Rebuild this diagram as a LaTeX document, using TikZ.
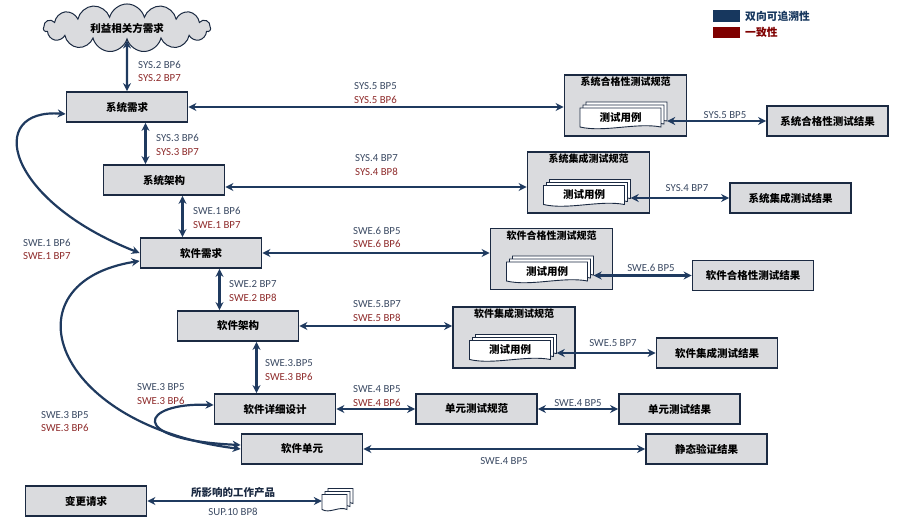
\documentclass[tikz,border=0pt]{standalone}
\usepackage{fontspec}
\setmainfont{Carlito}
\newfontfamily\cjk{Noto Sans CJK SC}
\usetikzlibrary{arrows.meta,shapes.symbols}
\definecolor{navy}{HTML}{1F3A5F}
\definecolor{edge}{HTML}{1B2A42}
\definecolor{boxgray}{HTML}{DADBDE}
\definecolor{bpblue}{HTML}{3B4A63}
\definecolor{bpred}{HTML}{8E2B2B}
\definecolor{legblue}{HTML}{17375E}
\definecolor{legred}{HTML}{7F0000}
\newcommand\pages[3]{%
  \foreach \d in {6,3,0}
    \draw[page] ([shift={(\d-#2/2,-\d-#3/2)}]#1) -- ++(#2,0) -- ++(0,#3)
      .. controls +(-#2*0.3,-#3*0.25) and +(#2*0.3,#3*0.3) .. ++(-#2,0) -- cycle;
}

\begin{document}
\begin{tikzpicture}[x=1pt,y=-1pt,
  box/.style={draw=edge,line width=1.8pt,fill=boxgray,minimum width=121,minimum height=30,inner sep=0,font=\cjk\bfseries\fontsize{10.5}{12}\selectfont},
  spec/.style={box,minimum width=122,minimum height=61},
  title/.style={font=\cjk\bfseries\fontsize{10}{12}\selectfont,inner sep=0},
  doc/.style={minimum width=81,minimum height=19,inner sep=0,font=\cjk\bfseries\fontsize{10.5}{12}\selectfont},
  page/.style={draw=edge,line width=0.9pt,fill=white},
  link/.style={draw=navy,line width=2.2pt,>={Stealth[length=8pt,width=8pt]},<->},
  tag/.style={align=left,anchor=west,inner sep=0,font=\fontsize{10.8}{13.5}\selectfont},
  one/.style={inner sep=0,text=bpblue,font=\fontsize{10.8}{13}\selectfont},
  key/.style={anchor=west,inner sep=0,font=\cjk\bfseries\fontsize{10.8}{13}\selectfont}]
\useasboundingbox (0,0) rectangle (904,522);

\node[cloud,cloud puffs=15,aspect=3.7,draw=edge,line width=1pt,fill=boxgray,minimum width=167,minimum height=45,font=\cjk\bfseries\fontsize{10.5}{12}\selectfont] (a) at (127,28) {利益相关方需求};
\node[box] (sr) at (127,107) {系统需求};
\node[box] (sa) at (164,180) {系统架构};
\node[box] (wr) at (201,253) {软件需求};
\node[box] (wa) at (238,326) {软件架构};
\node[box] (wd) at (275,409) {软件详细设计};
\node[box] (wu) at (302,449) {软件单元};
\node[box] (cr) at (86,501) {变更请求};

\node[spec] (qs) at (625.5,105.5) {};
\node[title] (qst) at ([yshift=-8pt]qs.north) {系统合格性测试规范};
\coordinate (qc) at (620.5,117.5);
\pages{qc}{81}{19}
\node[doc] (qd) at (qc) {测试用例};
\node[box] (qr) at (827.5,121) {系统合格性测试结果};

\node[spec] (is) at (588.5,182.5) {};
\node[title] (ist) at ([yshift=-8pt]is.north) {系统集成测试规范};
\coordinate (ic) at (584,195);
\pages{ic}{81}{19}
\node[doc] (id) at (ic) {测试用例};
\node[box] (ir) at (790.5,198) {系统集成测试结果};

\node[spec] (ws) at (551.5,259) {};
\node[title] (wst) at ([yshift=-8pt]ws.north) {软件合格性测试规范};
\coordinate (wc) at (547,271.5);
\pages{wc}{81}{19}
\node[doc] (wsd) at (wc) {测试用例};
\node[box] (wsr) at (753,275.5) {软件合格性测试结果};

\node[spec] (ns) at (514,337.5) {};
\node[title] (nst) at ([yshift=-8pt]ns.north) {软件集成测试规范};
\coordinate (nc) at (510,350);
\pages{nc}{81}{19}
\node[doc] (nd) at (nc) {测试用例};
\node[box] (nr) at (717,353) {软件集成测试结果};

\node[box] (us) at (476.5,409) {单元测试规范};
\node[box] (ur) at (679.5,409) {单元测试结果};
\node[box] (sv) at (706.5,449) {静态验证结果};

\coordinate (pc) at (334.5,502);
\pages{pc}{25}{15}
\node[doc,minimum width=25,minimum height=15] (pd) at (pc) {};

\draw[link] (a) -- (sr);
\draw[link] ([xshift=18.5pt]sr.south) -- ([xshift=-18.5pt]sa.north);
\draw[link] ([xshift=18.5pt]sa.south) -- ([xshift=-18.5pt]wr.north);
\draw[link] ([xshift=18.5pt]wr.south) -- ([xshift=-18.5pt]wa.north);
\draw[link] ([xshift=18.5pt]wa.south) -- ([xshift=-18.5pt]wd.north);
\draw[link] (sr.east) -- (sr.east -| qs.west);
\draw[link] ([yshift=-7pt]sa.east) -- ([yshift=-7pt]sa.east -| is.west);
\draw[link] (wr.east) -- (wr.east -| ws.west);
\draw[link] (wa.east) -- (wa.east -| ns.west);
\draw[link] (wd) -- (us);
\draw[link] (us) -- (ur);
\draw[link] (wu) -- (sv);
\draw[link] ([xshift=6pt]qr.west -| qd.east) -- (qr.west);
\draw[link] ([xshift=6pt]ir.west -| id.east) -- (ir.west);
\draw[link] ([xshift=6pt]wsr.west -| wsd.east) -- (wsr.west);
\draw[link] ([xshift=6pt]nr.west -| nd.east) -- (nr.west);
\draw[link] (cr.east) -- (cr.east -| pd.west);
\draw[link] ([yshift=-7pt]sr.west) .. controls (-15,108) and (5,200) .. (wr.west);
\draw[link] ([yshift=-8pt]wr.west) .. controls (5,282) and (50,425) .. (wu.west);
\draw[link] ([yshift=4pt]wu.west) .. controls (125,440) and (140,402) .. ([yshift=4pt]wd.west);

\node[tag] (t1) at (138,71.5) {\color{bpblue}SYS.2 BP6\\\color{bpred}SYS.2 BP7};
\node[tag] (t2) at (156,145) {\color{bpblue}SYS.3 BP6\\\color{bpred}SYS.3 BP7};
\node[tag] (t3) at (193,218) {\color{bpblue}SWE.1 BP6\\\color{bpred}SWE.1 BP7};
\node[tag] (t4) at (23,249.5) {\color{bpblue}SWE.1 BP6\\\color{bpred}SWE.1 BP7};
\node[tag] (t5) at (229,291) {\color{bpblue}SWE.2 BP7\\\color{bpred}SWE.2 BP8};
\node[tag] (t6) at (265,370) {\color{bpblue}SWE.3.BP5\\\color{bpred}SWE.3 BP6};
\node[tag] (t7) at (137,394) {\color{bpblue}SWE.3 BP5\\\color{bpred}SWE.3 BP6};
\node[tag] (t8) at (41,421.5) {\color{bpblue}SWE.3 BP5\\\color{bpred}SWE.3 BP6};
\node[tag] (t9) at (353,396) {\color{bpblue}SWE.4 BP5\\\color{bpred}SWE.4 BP6};
\node[tag] (t10) at (354,93) {\color{bpblue}SYS.5 BP5\\\color{bpred}SYS.5 BP6};
\node[tag] (t11) at (355,165) {\color{bpblue}SYS.4 BP7\\\color{bpred}SYS.4 BP8};
\node[tag] (t12) at (353,237.5) {\color{bpblue}SWE.6 BP5\\\color{bpred}SWE.6 BP6};
\node[tag] (t13) at (353,311) {\color{bpblue}SWE.5.BP7\\\color{bpred}SWE.5 BP8};
\node[one] (s1) at (725,115) {SYS.5 BP5};
\node[one] (s2) at (687,188) {SYS.4 BP7};
\node[one] (s3) at (651,268) {SWE.6 BP5};
\node[one] (s4) at (613,343) {SWE.5 BP7};
\node[one] (s5) at (578,403) {SWE.4 BP5};
\node[one] (s6) at (504,461) {SWE.4 BP5};
\node[one] (s7) at (233,512) {SUP.10 BP8};
\node[inner sep=0,text=edge,font=\cjk\bfseries\fontsize{10.5}{12}\selectfont] (p1) at (233,493) {所影响的工作产品};

\node[fill=legblue,minimum width=27,minimum height=12,inner sep=0] (kb) at (726.5,16) {};
\node[fill=legred,minimum width=27,minimum height=11,inner sep=0] (kr) at (726.5,32.5) {};
\node[key,text=legblue] (kbt) at (745,16) {双向可追溯性};
\node[key,text=legred] (krt) at (745,32.5) {一致性};
\end{tikzpicture}
\end{document}
